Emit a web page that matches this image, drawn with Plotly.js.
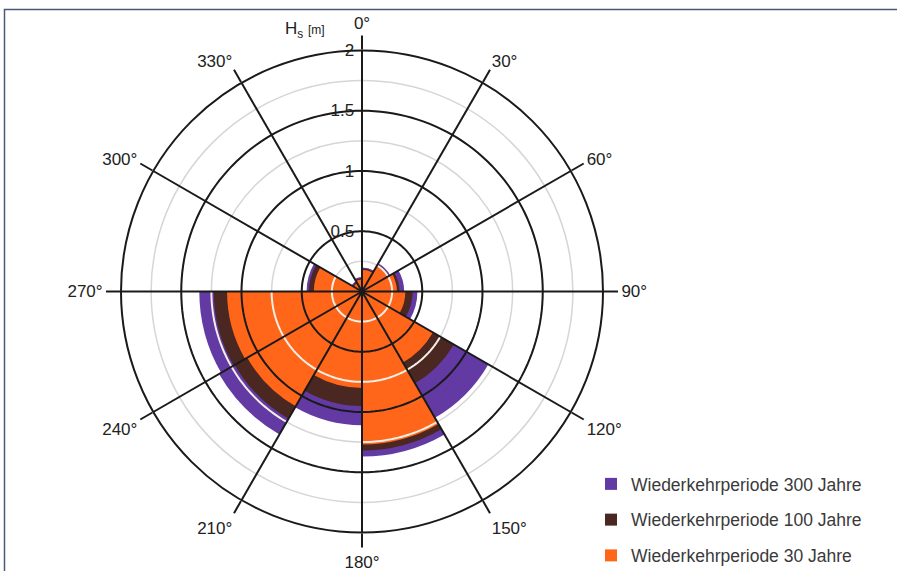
<!DOCTYPE html>
<html>
<head>
<meta charset="utf-8">
<script src="https://cdn.plot.ly/plotly-3.0.1.min.js"></script>
<style>
  html, body { margin: 0; padding: 0; background: #ffffff; }
  #chart { width: 897px; height: 571px; }
</style>
</head>
<body>
<div id="chart"></div>
<script>
// ---- data ----
const sectorCenters = [15, 45, 75, 105, 135, 165, 195, 225, 255, 285, 315, 345];
const sectorWidth = 30;
const hs300 = [0.20, 0.27, 0.35, 0.46, 1.21, 1.37, 1.11, 1.37, 1.35, 0.46, 0.10, 0.12];
const hs100 = [0.19, 0.26, 0.31, 0.42, 0.88, 1.32, 0.95, 1.22, 1.23, 0.44, 0.09, 0.11];
const hs30  = [0.18, 0.25, 0.29, 0.36, 0.68, 1.27, 0.80, 1.10, 1.12, 0.40, 0.08, 0.10];
const seriesNames = ['Wiederkehrperiode 300 Jahre', 'Wiederkehrperiode 100 Jahre', 'Wiederkehrperiode 30 Jahre'];
const angleTicks = [0, 30, 60, 90, 120, 150, 180, 210, 240, 270, 300, 330];
const angleLabels = ['0°', '30°', '60°', '90°', '120°', '150°', '180°', '210°', '240°', '270°', '300°', '330°'];
const majorRings = [0.5, 1, 1.5];
const minorRings = [0.25, 0.75, 1.25, 1.75];
const radialTickVals = [0.25, 0.5, 0.75, 1, 1.25, 1.5, 1.75, 2];
const radialTickText = ['', '0.5', '', '1', '', '1.5', '', '2'];
const rMax = 2;

const colors = ['#633aa3', '#4a2721', '#ff661a'];
const labelFont = "'Liberation Sans Narrow', 'Liberation Sans', Arial, sans-serif";
const pad = '\u00a0';

// ---- traces ----
const traces = [];
[hs300, hs100, hs30].forEach((vals, k) => {
  traces.push({
    type: 'barpolar',
    r: vals,
    theta: sectorCenters,
    width: sectorCenters.map(() => sectorWidth),
    name: seriesNames[k],
    legendgroup: 'g' + k,
    marker: { color: colors[k], line: { width: 0 } },
    hoverinfo: 'r+theta+name'
  });
});

// white minor ring segments drawn over the bars
const wr = [], wt = [];
sectorCenters.forEach((c, i) => {
  minorRings.forEach(m => {
    if (m < hs300[i]) {
      for (let a = c - sectorWidth / 2; a <= c + sectorWidth / 2; a += 1) { wr.push(m); wt.push(a); }
      wr.push(null); wt.push(null);
    }
  });
});
traces.push({ type: 'scatterpolar', mode: 'lines', r: wr, theta: wt, line: { color: '#f4efe6', width: 2 },
  showlegend: false, hoverinfo: 'skip', connectgaps: false });

// black major rings
const br = [], bt = [];
majorRings.forEach(m => {
  for (let a = 0; a <= 360; a += 2) { br.push(m); bt.push(a); }
  br.push(null); bt.push(null);
});
traces.push({ type: 'scatterpolar', mode: 'lines', r: br, theta: bt, line: { color: '#1a1a1a', width: 2 },
  showlegend: false, hoverinfo: 'skip', connectgaps: false });

// black spokes
const sr = [], st = [];
angleTicks.forEach(a => { sr.push(0, rMax, null); st.push(a, a, null); });
traces.push({ type: 'scatterpolar', mode: 'lines', r: sr, theta: st, line: { color: '#1a1a1a', width: 2 },
  showlegend: false, hoverinfo: 'skip', connectgaps: false });

// ---- layout ----
const W = 897, H = 571;
const cx = 362, cy = 291.5, R = 241;
const layout = {
  width: W, height: H,
  margin: { l: 0, r: 0, t: 0, b: 0, autoexpand: false },
  paper_bgcolor: '#ffffff',
  plot_bgcolor: '#ffffff',
  barmode: 'overlay',
  showlegend: true,
  legend: {
    x: 591 / W, xanchor: 'left',
    y: (H - 466) / H, yanchor: 'top',
    font: { family: "'Liberation Sans', Arial, sans-serif", size: 17.5, color: '#3a3a3a' },
    tracegroupgap: 10,
    traceorder: 'grouped',
    bgcolor: 'rgba(0,0,0,0)'
  },
  polar: {
    domain: { x: [(cx - R) / W, (cx + R) / W], y: [(H - cy - R) / H, (H - cy + R) / H] },
    bgcolor: '#ffffff',
    barmode: 'overlay',
    radialaxis: {
      range: [0, rMax],
      angle: 90,
      side: 'counterclockwise',
      tickvals: radialTickVals,
      ticktext: radialTickText.map(t => t ? t + pad : t),
      ticks: '',
      showline: false,
      showgrid: true,
      gridcolor: '#d9d4d6',
      gridwidth: 1.5,
      tickfont: { family: labelFont, size: 17, color: '#222222' },
      tickangle: 90
    },
    angularaxis: {
      rotation: 90,
      direction: 'clockwise',
      tickvals: angleTicks,
      ticktext: angleLabels,
      ticks: 'outside',
      ticklen: 14,
      tickwidth: 2,
      tickcolor: '#1a1a1a',
      showline: true,
      linecolor: '#1a1a1a',
      linewidth: 2,
      showgrid: false,
      tickfont: { family: labelFont, size: 17, color: '#222222' }
    }
  },
  annotations: [{
    xref: 'paper', yref: 'paper',
    x: 305 / W, y: (H - 30) / H,
    xanchor: 'center', yanchor: 'middle',
    text: "H<sub>s</sub> <span style='font-size:12px'>[m]</span>",
    showarrow: false,
    font: { family: labelFont, size: 17, color: '#222222' }
  }],
  shapes: [{
    type: 'rect', xref: 'paper', yref: 'paper',
    x0: 4.5 / W, x1: 1.1, y0: -0.1, y1: (H - 9.5) / H,
    line: { color: '#4a5878', width: 1.5 },
    fillcolor: 'rgba(0,0,0,0)'
  }]
};

Plotly.newPlot('chart', traces, layout, { displayModeBar: false, staticPlot: true });
</script>
</body>
</html>
